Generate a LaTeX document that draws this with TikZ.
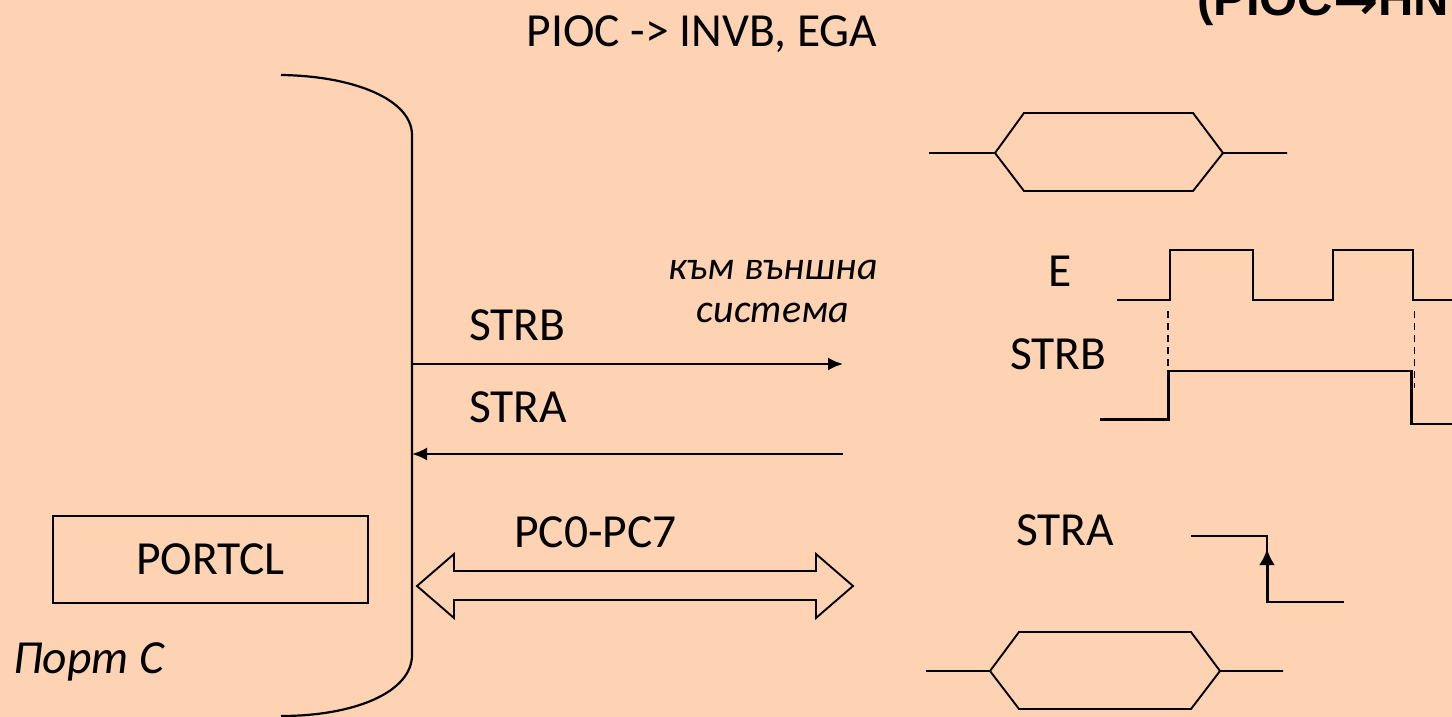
\documentclass[tikz,border=0pt]{standalone}
\usepackage{fontspec}
\setmainfont{Carlito}
\newfontfamily\boldarial{Liberation Sans}
\newfontfamily\arrowfont{DejaVu Sans}
\usetikzlibrary{arrows.meta}
\definecolor{bgpeach}{HTML}{FED3B4}
\tikzset{
  x=1pt,y=-1pt,
  wire/.style={line width=2.2pt,line join=miter,black},
  thin wire/.style={line width=1.9pt,line join=miter,black},
  lbl/.style={inner sep=0pt,anchor=base west,font=\fontsize{47.5}{50}\selectfont},
  small lbl/.style={inner sep=0pt,anchor=base,font=\fontsize{40}{42}\selectfont\itshape},
  tip/.style={-{Latex[length=15pt,width=13pt]}},
}
\begin{document}
\begin{tikzpicture}
\useasboundingbox (0,0) rectangle (1452,717);
\clip (0,0) rectangle (1452,717);
\fill[bgpeach] (0,0) rectangle (1452,717);

% titles
\node[lbl,anchor=base] (title) at (702,47) {PIOC -> INVB, EGA};
\node[inner sep=0pt,anchor=base west,font=\fontsize{49}{52}\selectfont\boldarial\bfseries] (mode) at (1197,16) {(PIOC{\arrowfont\bfseries\fontsize{54}{60}\selectfont\raisebox{-4pt}{→}}HN};

% port body
\coordinate (bodyTop) at (281,75);
\coordinate (bodyBot) at (281,716);
\draw[wire] (bodyTop) .. controls (355,76) and (412,100) .. (412,135) -- (412,655) .. controls (412,692) and (355,716) .. (bodyBot);
\coordinate (busA) at (412,364);
\coordinate (busB) at (412,454);
\coordinate (extA) at (843,364);
\coordinate (extB) at (843,454);
\draw[wire,tip] (busA) -- (extA);
\draw[wire,tip] (extB) -- (busB);

% PORTCL
\node[draw,thin wire,minimum width=315pt,minimum height=87pt,inner sep=0pt,anchor=north west,font=\fontsize{47.5}{50}\selectfont] (portcl) at (52,515) {PORTCL};
\node[lbl,font=\fontsize{47.5}{50}\selectfont\itshape] (portc) at (13,673) {Порт С};

% labels left
\node[lbl] (strbL) at (469,340) {STRB};
\node[lbl] (straL) at (469,422) {STRA};
\node[lbl] (pcL) at (514,547) {PC0-PC7};
\node[small lbl] (ext1) at (773,279) {към външна};
\node[small lbl] (ext2) at (773,322) {система};

% double arrow
\draw[thin wire] (417,586) -- (454,554) -- (454,571) -- (816,571) -- (816,554) -- (853,586) -- (816,618) -- (816,600) -- (454,600) -- (454,618) -- cycle;

% top hexagon
\draw[thin wire] (929,153) -- (995,153) -- (1024,113) -- (1193,113) -- (1223,153) -- (1287,153);
\draw[thin wire] (995,153) -- (1024,191) -- (1193,191) -- (1223,153);

% labels right
\node[lbl] (eR) at (1048,286) {E};
\node[lbl] (strbR) at (1010,369) {STRB};
\node[lbl] (straR) at (1016,545) {STRA};

% E wave
\draw[wire] (1117,300) -- (1170,300) -- (1170,250) -- (1253,250) -- (1253,300) -- (1333,300) -- (1333,250) -- (1413,250) -- (1413,300) -- (1452,300);
% dashed
\draw[thin wire,dash pattern=on 7pt off 5pt] (1168,311) -- (1168,388);
\draw[thin wire,dash pattern=on 7pt off 5pt] (1414.5,311) -- (1414.5,388);
% STRB wave
\draw[wire] (1100,419.5) -- (1168.5,419.5) -- (1168.5,371) -- (1411.5,371) -- (1411.5,424) -- (1452,424);

% STRA wave
\coordinate (straStart) at (1191,536);
\coordinate (straEnd) at (1344,602);
\coordinate (straMid) at (1267,602);
\coordinate (straHead) at (1267,549);
\draw[thin wire] (straStart) -- (1267,536) -- (straMid) -- (straEnd);
\draw[line width=3pt,-{Latex[length=16pt,width=16pt]}] (straMid) -- (straHead);

% bottom hexagon
\draw[thin wire] (926,671) -- (990,671) -- (1019,632) -- (1191,632) -- (1220,671) -- (1283,671);
\draw[thin wire] (990,671) -- (1019,709) -- (1191,709) -- (1220,671);
\end{tikzpicture}
\end{document}
